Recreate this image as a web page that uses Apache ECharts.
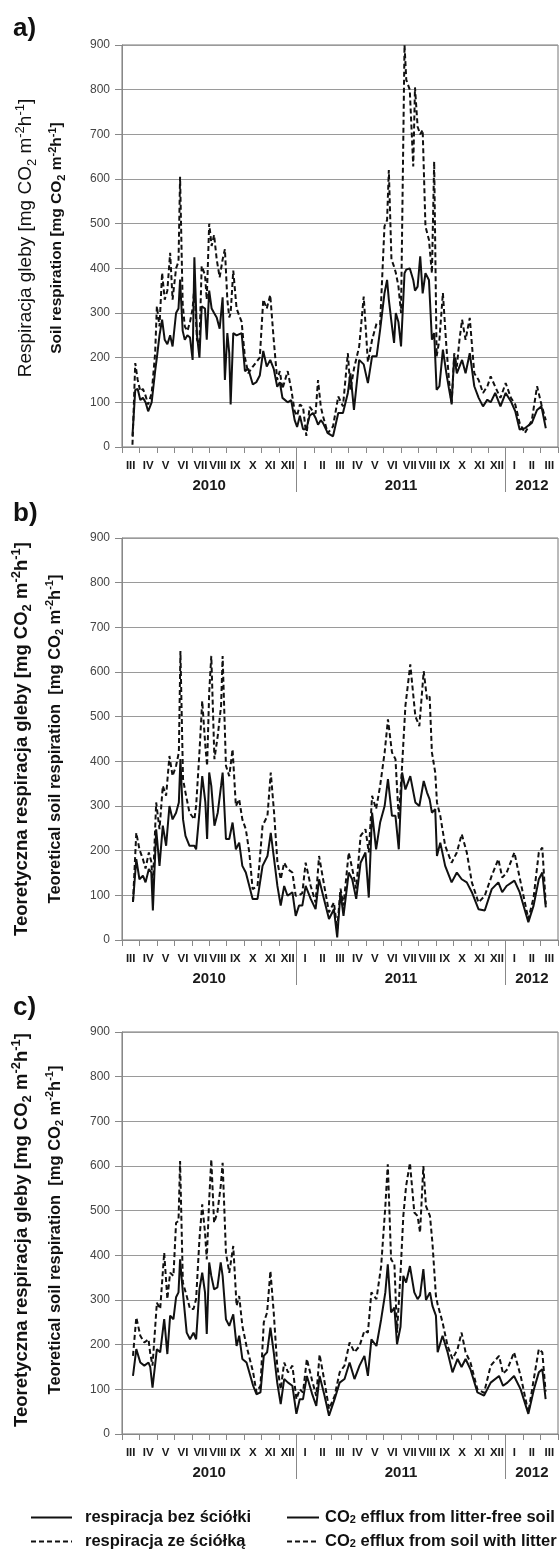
<!DOCTYPE html>
<html><head><meta charset="utf-8">
<script src="https://cdn.jsdelivr.net/npm/echarts@6/dist/echarts.min.js"></script>
<style>html,body{margin:0;padding:0;background:#fff}#c{width:560px;height:1553px}</style>
</head><body><div id="c"></div>
<script>
// ---- axis labels ----
const monthLabels = ['III','IV','V','VI','VII','VIII','IX','X','XI','XII','I','II','III','IV','V','VI','VII','VIII','IX','X','XI','XII','I','II','III'];
const yearLabels = ['2010','2011','2012'];
const yearBounds = [0, 10, 22, 25];
const yTicks = [0, 100, 200, 300, 400, 500, 600, 700, 800, 900];
const seriesNames = ['respiracja bez ściółki', 'respiracja ze ściółką'];
const seriesNamesEn = ['CO{s|2} efflux from litter-free soil', 'CO{s|2} efflux from soil with litter'];

// ---- panel a: measured (time in months since start of March 2010) ----
const tA = [0.6,0.76,0.9,1.05,1.2,1.35,1.5,1.7,1.9,2.0,2.15,2.3,2.45,2.6,2.76,2.9,3.1,3.24,3.33,3.48,3.6,3.75,3.9,4.05,4.15,4.3,4.44,4.57,4.76,4.86,5.0,5.14,5.28,5.43,5.6,5.77,5.9,6.04,6.15,6.23,6.38,6.57,6.86,7.05,7.24,7.5,7.7,7.9,8.1,8.3,8.5,8.7,8.9,9.05,9.2,9.5,9.7,9.9,10.04,10.2,10.38,10.57,10.76,10.95,11.1,11.24,11.4,11.52,11.8,12.1,12.4,12.67,12.95,13.1,13.3,13.6,13.86,14.1,14.34,14.6,14.8,15.05,15.2,15.3,15.45,15.6,15.7,15.85,16.0,16.2,16.3,16.5,16.7,16.8,16.95,17.1,17.24,17.4,17.6,17.77,17.9,18.04,18.2,18.4,18.6,18.75,18.9,19.05,19.2,19.35,19.5,19.7,19.94,20.2,20.45,20.7,20.95,21.14,21.4,21.7,22.0,22.3,22.55,22.8,23.1,23.5,23.8,24.05,24.3];
const aBare = [25,128,130,105,110,100,80,100,170,200,250,285,240,230,250,225,300,310,375,260,240,250,245,195,425,250,200,315,310,240,350,310,300,290,265,335,150,255,210,95,255,250,255,170,175,140,145,160,215,180,195,175,135,145,110,100,105,60,45,70,40,40,70,76,65,50,60,54,31,24,76,76,121,165,83,195,185,143,203,203,262,344,374,330,280,233,300,280,225,389,397,400,374,350,359,427,344,389,374,240,255,128,136,218,165,130,98,203,165,180,195,165,210,136,110,91,106,100,121,91,121,102,80,39,42,54,83,91,42];
const aLitter = [5,188,150,125,130,115,95,120,210,315,270,390,330,350,435,330,400,415,605,320,270,260,280,310,360,240,230,405,385,330,500,450,475,420,380,420,443,330,290,300,395,310,280,200,165,180,190,200,330,310,340,240,150,170,130,170,130,80,70,95,90,25,90,80,75,150,90,70,31,46,113,91,210,128,175,225,337,190,240,277,275,494,508,620,420,404,390,360,300,900,822,800,628,805,717,700,710,494,464,389,639,203,240,345,225,150,95,210,180,240,285,240,289,165,150,121,136,158,135,110,143,110,95,54,31,60,136,95,60];

// ---- panel b: theoretical ----
const tB = [0.63,0.82,1.0,1.2,1.35,1.54,1.68,1.77,1.96,2.15,2.34,2.53,2.72,2.9,3.1,3.26,3.35,3.5,3.64,3.87,4.15,4.25,4.44,4.6,4.78,4.88,5.0,5.12,5.3,5.49,5.68,5.77,5.96,6.15,6.34,6.53,6.72,6.9,7.1,7.3,7.49,7.77,8.06,8.34,8.53,8.72,8.91,9.1,9.3,9.49,9.77,9.96,10.15,10.34,10.53,10.82,11.1,11.3,11.58,11.87,12.15,12.34,12.53,12.7,13.0,13.2,13.43,13.68,13.96,14.15,14.34,14.57,14.8,15.06,15.25,15.48,15.68,15.87,16.06,16.25,16.53,16.82,17.05,17.3,17.49,17.64,17.77,17.96,18.06,18.25,18.53,18.9,19.2,19.48,19.77,20.06,20.44,20.8,21.2,21.58,21.8,22.05,22.5,22.8,23.3,23.6,23.9,24.1,24.3];
const bBare = [85,181,136,144,129,159,151,66,248,166,256,211,300,270,285,308,405,270,233,211,211,203,285,367,308,226,375,345,256,285,345,375,226,226,263,203,218,166,151,121,92,92,166,188,240,181,121,77,121,99,107,54,77,77,121,92,69,136,92,47,69,6,107,54,151,136,92,173,196,95,285,203,263,300,360,278,278,203,375,337,367,308,300,356,330,315,285,293,188,218,166,129,151,136,129,107,69,66,114,129,107,121,133,107,40,77,136,151,73];
const bLitter = [85,240,203,181,160,196,175,120,308,248,345,323,412,367,390,420,647,360,330,285,270,300,420,535,434,390,554,636,405,457,524,636,390,367,427,300,315,270,248,196,114,120,256,278,375,285,175,136,173,159,151,99,100,105,173,121,84,188,125,62,84,25,115,77,196,160,115,233,248,196,323,293,345,420,494,420,405,270,390,524,617,501,479,602,539,545,420,375,308,278,211,173,196,237,196,129,84,99,144,181,140,150,196,140,47,95,196,207,80];

// ---- panel c: theoretical ----
const tC = [0.63,0.82,1.05,1.28,1.52,1.62,1.75,2.0,2.19,2.42,2.6,2.76,2.95,3.1,3.24,3.33,3.49,3.71,3.9,4.1,4.25,4.44,4.6,4.76,4.86,5.0,5.12,5.28,5.47,5.66,5.77,5.96,6.15,6.38,6.57,6.72,6.9,7.14,7.52,7.71,7.94,8.13,8.32,8.51,8.7,8.9,9.1,9.3,9.52,9.77,10.0,10.19,10.38,10.6,10.9,11.14,11.33,11.6,11.87,12.19,12.48,12.76,13.05,13.33,13.62,13.9,14.1,14.3,14.59,14.86,15.1,15.24,15.43,15.62,15.77,15.97,16.13,16.29,16.51,16.76,16.95,17.09,17.28,17.43,17.66,17.8,18.0,18.1,18.38,18.67,18.95,19.24,19.47,19.7,19.98,20.38,20.76,21.14,21.62,21.85,22.1,22.48,22.86,23.3,23.62,23.9,24.1,24.29];
const cBare = [130,190,160,153,160,150,104,190,183,257,179,265,257,306,317,391,317,227,212,227,212,324,361,317,224,384,354,324,328,384,354,257,242,268,197,220,168,160,108,89,93,175,183,238,183,115,67,123,115,108,45,78,78,130,90,63,130,88,41,78,115,123,160,123,153,175,130,212,197,257,317,380,272,283,201,240,354,339,376,317,302,310,369,300,317,287,265,183,220,183,138,168,150,168,145,93,86,115,130,108,115,130,100,45,100,138,145,78];
const cLitter = [175,261,220,205,212,180,153,294,280,406,302,361,354,473,477,611,339,309,280,280,302,436,514,451,391,525,615,473,496,555,607,406,361,421,287,309,242,197,138,93,108,250,272,365,272,153,100,160,138,153,78,100,93,168,120,85,178,120,56,85,138,153,205,183,197,231,227,317,302,376,510,604,391,380,227,360,488,555,607,496,488,451,600,510,488,428,309,290,250,197,168,190,227,183,160,100,92,153,175,135,145,183,130,48,125,190,183,95];

const FONT = '"Liberation Sans", Arial, sans-serif';
const panels = [
  {t: tA, bare: aBare, litter: aLitter, top: 45, letter: 'a)', letterY: 29, shift: 16,
    n1: 'Respiracja gleby ', n1w: 'normal', n1s: 19, n1c: 26, n2: 'Soil respiration ', n2s: 15.5, n2c: 57},
  {t: tB, bare: bBare, litter: bLitter, top: 538, letter: 'b)', letterY: 514, shift: 0,
    n1: 'Teoretyczna respiracja gleby ', n1w: 'bold', n1s: 18.5, n1c: 22, n2: 'Teoretical soil respiration  ', n2s: 16.5, n2c: 55},
  {t: tC, bare: cBare, litter: cLitter, top: 1032, letter: 'c)', letterY: 1008, shift: 6,
    n1: 'Teoretyczna respiracja gleby ', n1w: 'bold', n1s: 18.5, n1c: 22, n2: 'Teoretical soil respiration  ', n2s: 16.5, n2c: 55}
];
const PH = 402;
const GL = 122;
const LETTER_SIZE = 26;

function unitName(prefix) {
  return '{m|' + prefix + '[mg CO}{sb|2}{m| m}{sp|-2}{m|h}{sp|-1}{m|]}';
}
function lineH(size) { return Math.round(size * 1.3); }
function unitRich(size, weight) {
  const lh = lineH(size);
  const small = Math.round(size * 0.68);
  return {
    m: {fontFamily: FONT, fontSize: size, fontWeight: weight, color: '#111', lineHeight: lh},
    sb: {fontFamily: FONT, fontSize: small, fontWeight: weight, color: '#111', lineHeight: Math.round(lh * 0.55), verticalAlign: 'bottom'},
    sp: {fontFamily: FONT, fontSize: small, fontWeight: weight, color: '#111', lineHeight: Math.round(lh * 0.55), verticalAlign: 'top'}
  };
}

const monthCenters = monthLabels.map((_, i) => i + 0.5);
const yearCenters = yearLabels.map((_, i) => (yearBounds[i] + yearBounds[i + 1]) / 2);
const yearSeps = yearBounds.slice(1, -1);

const grid = [], xAxis = [], yAxis = [], series = [], title = [];
panels.forEach((p, k) => {
  grid.push({left: GL, right: 2, top: p.top, height: PH, show: true, borderColor: '#777', borderWidth: 1,
    containLabel: false, outerBoundsMode: 'none'});
  title.push({text: p.letter, left: 13, top: p.letterY - LETTER_SIZE / 2, padding: 0,
    textStyle: {fontFamily: FONT, fontSize: LETTER_SIZE, fontWeight: 'bold', color: '#111', lineHeight: LETTER_SIZE}});
  xAxis.push({
    type: 'value', gridIndex: k, min: 0, max: 25, interval: 1, position: 'bottom',
    axisLine: {show: true, onZero: false, lineStyle: {color: '#888', width: 1}},
    axisTick: {show: true, length: 6, lineStyle: {color: '#888'}},
    splitLine: {show: false},
    axisLabel: {customValues: monthCenters, margin: 13, fontFamily: FONT, fontSize: 11.5, fontWeight: 'bold', color: '#1a1a1a', hideOverlap: false,
      formatter: v => monthLabels[Math.floor(v)]}
  });
  xAxis.push({
    type: 'value', gridIndex: k, min: 0, max: 25, position: 'bottom',
    axisLine: {show: false},
    axisTick: {show: true, customValues: yearSeps, length: 45, lineStyle: {color: '#888'}},
    splitLine: {show: false},
    axisLabel: {customValues: yearCenters, margin: 31, fontFamily: FONT, fontSize: 15, fontWeight: 'bold', color: '#1a1a1a',
      formatter: v => yearLabels[yearCenters.indexOf(v)]}
  });
  yAxis.push({
    type: 'value', gridIndex: k, min: 0, max: 900, interval: 100, position: 'left',
    axisLine: {show: true, lineStyle: {color: '#888'}},
    axisTick: {show: true, length: 7, lineStyle: {color: '#888'}},
    axisLabel: {margin: 12, fontFamily: FONT, fontSize: 12, color: '#444', customValues: yTicks},
    splitLine: {show: true, lineStyle: {color: '#9a9a9a', width: 1}},
    name: unitName(p.n2), nameLocation: 'middle', nameRotate: 90, nameGap: GL - p.n2c - lineH(p.n2s) / 2,
    nameTextStyle: {rich: unitRich(p.n2s, 'bold'), padding: [0, 0, 0, p.shift]}
  });
  yAxis.push({
    type: 'value', gridIndex: k, min: 0, max: 900, position: 'left',
    axisLine: {show: false}, axisTick: {show: false}, axisLabel: {show: false}, splitLine: {show: false},
    name: unitName(p.n1), nameLocation: 'middle', nameRotate: 90, nameGap: GL - p.n1c - lineH(p.n1s) / 2,
    nameTextStyle: {rich: unitRich(p.n1s, p.n1w), padding: [0, 0, 0, p.shift]}
  });
  series.push({
    name: seriesNames[1], type: 'line', xAxisIndex: 2 * k, yAxisIndex: 2 * k, symbol: 'none', showSymbol: false,
    lineStyle: {color: '#111', width: 2, type: [5, 3]}, itemStyle: {color: '#111'},
    data: p.t.map((t, i) => [t, p.litter[i]])
  });
  series.push({
    name: seriesNames[0], type: 'line', xAxisIndex: 2 * k, yAxisIndex: 2 * k, symbol: 'none', showSymbol: false,
    lineStyle: {color: '#111', width: 2, type: 'solid'}, itemStyle: {color: '#111'},
    data: p.t.map((t, i) => [t, p.bare[i]])
  });
});

function legendText(padLeft) {
  return {fontFamily: FONT, fontSize: 16.5, fontWeight: 'bold', color: '#111', lineHeight: 16, padding: [0, 0, 0, padLeft],
    rich: {s: {fontFamily: FONT, fontSize: 11, fontWeight: 'bold', color: '#111', verticalAlign: 'bottom', lineHeight: 10}}};
}
const legendItem = {color: 'rgba(0,0,0,0)', borderWidth: 0, borderColor: 'rgba(0,0,0,0)'};
const legend = [
  {data: seriesNames, orient: 'vertical', left: 30, top: 1509, height: 44, padding: 0, itemWidth: 41, itemHeight: 16, itemGap: 7, selectedMode: false,
    itemStyle: legendItem, textStyle: legendText(8)},
  {data: seriesNames, orient: 'vertical', left: 286, top: 1509, height: 44, padding: 0, itemWidth: 32, itemHeight: 16, itemGap: 7, selectedMode: false,
    itemStyle: legendItem, textStyle: legendText(1),
    formatter: n => seriesNamesEn[seriesNames.indexOf(n)]}
];

const chart = echarts.init(document.getElementById('c'), null, {renderer: 'canvas'});
chart.setOption({animation: false, backgroundColor: '#fff', title, grid, xAxis, yAxis, series, legend});
</script></body></html>
